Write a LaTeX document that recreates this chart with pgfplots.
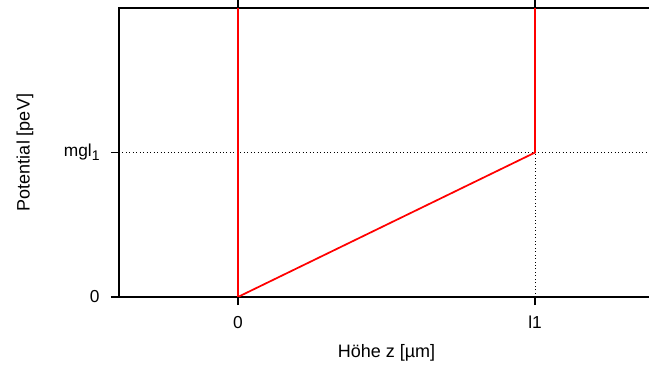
\documentclass[border=0pt]{standalone}
\usepackage{pgfplots}
\pgfplotsset{compat=1.18}
\usepackage{fontspec}
\setmainfont{Liberation Sans}
\begin{document}
\begin{tikzpicture}
\begin{axis}[
  scale only axis,
  width=401.25pt, height=216.75pt,
  xmin=-0.4, xmax=1.4, ymin=0, ymax=2,
  xtick={0,1}, xticklabels={0,l1},
  ytick={0,1}, yticklabels={0,mgl\raisebox{-0.45ex}{\fontsize{10.5}{12}\selectfont 1}},
  xtick pos=both, ytick pos=both,
  xtick align=outside, ytick align=outside,
  major tick length=6pt,
  every tick/.style={black, line width=1.1pt},
  axis line style={line width=1.2pt},
  /pgf/number format/assume math mode=true,
  tick label style={font=\fontsize{13}{15}\selectfont},
  xticklabel style={yshift=-5pt},
  yticklabel style={xshift=-5pt},
  every axis x label/.style={at={(axis description cs:0.5,0)}, anchor=center, yshift=-42pt, font=\fontsize{13.5}{16}\selectfont},
  every axis y label/.style={at={(axis description cs:0,0.5)}, anchor=center, xshift=-70.5pt, rotate=90, font=\fontsize{13.5}{16}\selectfont},
  xlabel={Höhe z [µm]},
  ylabel={Potential [peV]},
  clip=false,
]
\addplot[black, dotted, line width=0.6pt, forget plot] coordinates {(-0.4,1) (1.4,1)};
\addplot[black, dotted, line width=0.6pt, forget plot] coordinates {(1,0) (1,1)};
\addplot[red, line width=1.3pt] coordinates {(0,2) (0,0) (1,1) (1,2)};
\draw[black, line width=1.1pt] (axis cs:0,0) -- ([yshift=-6pt]axis cs:0,0);
\draw[black, line width=1.1pt] (axis cs:1,0) -- ([yshift=-6pt]axis cs:1,0);
\draw[black, line width=1.1pt] (axis cs:0,2) -- ([yshift=6pt]axis cs:0,2);
\draw[black, line width=1.1pt] (axis cs:1,2) -- ([yshift=6pt]axis cs:1,2);
\draw[black, line width=1.1pt] (axis cs:-0.4,0) -- ([xshift=-6pt]axis cs:-0.4,0);
\draw[black, line width=1.1pt] (axis cs:-0.4,1) -- ([xshift=-6pt]axis cs:-0.4,1);
\coordinate (SW) at (rel axis cs:0,0);
\coordinate (NW) at (rel axis cs:0,1);
\end{axis}
\pgfresetboundingbox
\path ([shift={(-89.25pt,-55.5pt)}]SW) rectangle ([shift={(397.5pt,6pt)}]NW);
\end{tikzpicture}
\end{document}
